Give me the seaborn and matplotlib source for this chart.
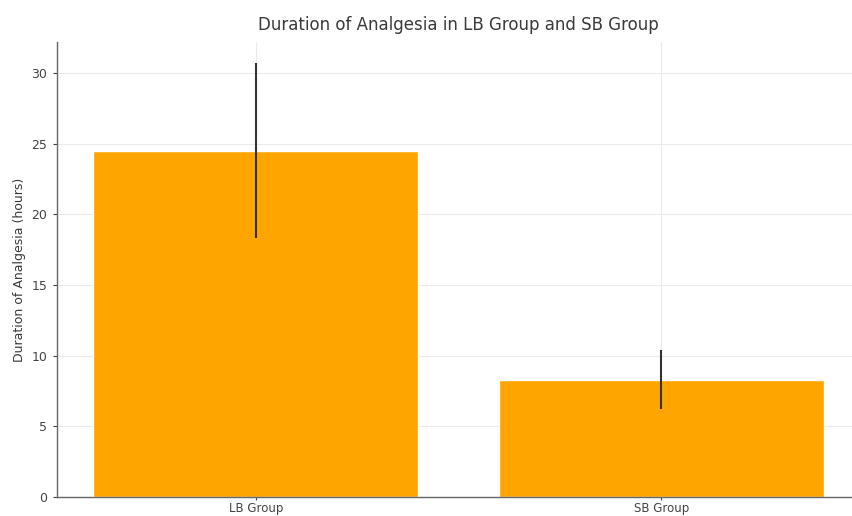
import matplotlib
matplotlib.use("Agg")
import matplotlib.pyplot as plt
import seaborn as sns
import pandas as pd

groups = ["LB Group", "SB Group"]
means = [24.5, 8.3]
sds = [6.2, 2.1]

sns.set_theme(style="whitegrid")
plt.rcParams['font.family'] = ['DejaVu Sans']

df = pd.DataFrame({"Group": groups, "Duration": means})

fig = plt.figure(figsize=(8.52, 5.16), dpi=100)
ax = fig.add_axes([57/852, 19/516, 803/852, 455/516])

sns.barplot(data=df, x="Group", y="Duration", color="#FFA500", saturation=1,
            errorbar=None, width=0.8, ax=ax)
ax.errorbar(x=groups, y=means, yerr=sds, fmt="none", ecolor="#333333",
            elinewidth=1.5, capsize=0)

ax.set_xlim(-0.49, 1.49)
ax.set_ylim(0, 32.2)
ax.set_yticks([0, 5, 10, 15, 20, 25, 30])
ax.set_title("Duration of Analgesia in LB Group and SB Group", fontsize=12,
             color="#3a3a3a", pad=9)
ax.set_xlabel("")
ax.set_ylabel("Duration of Analgesia (hours)", fontsize=9, color="#3a3a3a")
ax.tick_params(axis="y", labelsize=9, colors="#444444", length=3, width=0.8,
               left=True, pad=4)
ax.tick_params(axis="x", labelsize=8.5, colors="#444444", length=2, width=0.8,
               bottom=True, pad=1.5)
ax.grid(True, color="#ebebeb", linewidth=0.8)
ax.set_axisbelow(True)
for s in ["top", "right"]:
    ax.spines[s].set_visible(False)
for s in ["left", "bottom"]:
    ax.spines[s].set_color("#666666")
    ax.spines[s].set_linewidth(1.0)

fig.savefig("out.png", dpi=100, facecolor="white")
